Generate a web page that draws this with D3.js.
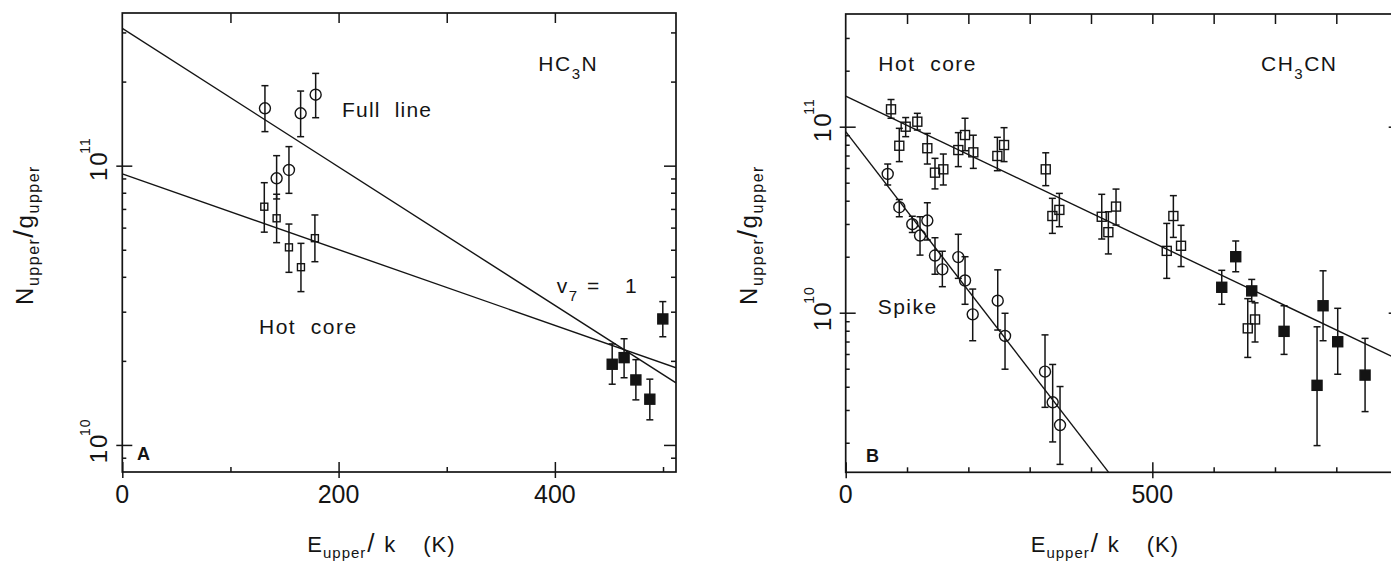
<!DOCTYPE html>
<html><head><meta charset="utf-8">
<script src="https://cdn.jsdelivr.net/npm/d3@7"></script>
<style>
body{margin:0;background:#fff;}
svg{display:block;font-family:"Liberation Sans",Arial,Helvetica,sans-serif;}
text{white-space:pre;}
</style></head><body>
<svg id="c" width="1391" height="565"></svg>
<script>
// ---------- DATA (E_upper/k [K], N/g, lower, upper) ----------
// Panel A: HC3N
const hc3nFullLine = [
  [131.9, 1.605e11, 1.324e11, 1.934e11],
  [142.7, 9.01e10, 7.6e10, 1.086e11],
  [154.1, 9.65e10, 7.96e10, 1.17e11],
  [164.9, 1.54e11, 1.27e11, 1.85e11],
  [178.8, 1.795e11, 1.485e11, 2.14e11]
];
const hc3nHotCore = [
  [131.3, 7.13e10, 5.78e10, 8.69e10],
  [142.7, 6.48e10, 5.3e10, 7.9e10],
  [154.1, 5.1e10, 4.15e10, 6.18e10],
  [165.2, 4.33e10, 3.54e10, 5.27e10],
  [178.1, 5.5e10, 4.53e10, 6.66e10]
];
const hc3nV7 = [
  [453.0, 1.945e10, 1.65e10, 2.30e10],
  [464.0, 2.054e10, 1.74e10, 2.40e10],
  [474.9, 1.709e10, 1.45e10, 2.02e10],
  [487.8, 1.458e10, 1.23e10, 1.72e10],
  [499.8, 2.826e10, 2.44e10, 3.26e10]
];
const hc3nFitFull = [[0, 3.1e11], [512, 1.668e10]];
const hc3nFitHot = [[0, 9.34e10], [512, 1.89e10]];

// Panel B: CH3CN
const ch3cnHotCore = [
  [73.9, 1.24e11, 1.11e11, 1.40e11],
  [87.4, 7.9e10, 6.49e10, 9.8e10],
  [97.8, 1.0e11, 8.84e10, 1.12e11],
  [116.8, 1.064e11, 9.6e10, 1.18e11],
  [133.1, 7.66e10, 6.3e10, 9.2e10],
  [145.6, 5.66e10, 4.63e10, 6.76e10],
  [159.2, 5.9e10, 4.86e10, 7.13e10],
  [183.6, 7.49e10, 6.1e10, 9.29e10],
  [194.6, 9.02e10, 7.43e10, 1.11e11],
  [208.1, 7.28e10, 5.97e10, 9.0e10],
  [247.3, 6.96e10, 5.8e10, 8.77e10],
  [258.2, 7.97e10, 6.49e10, 9.88e10],
  [326.2, 5.9e10, 4.82e10, 7.24e10],
  [337.0, 3.31e10, 2.67e10, 4.12e10],
  [348.4, 3.57e10, 2.9e10, 4.38e10],
  [417.5, 3.28e10, 2.49e10, 4.33e10],
  [428.3, 2.71e10, 2.07e10, 3.49e10],
  [440.8, 3.72e10, 2.96e10, 4.62e10],
  [523.5, 2.15e10, 1.53e10, 3.02e10],
  [534.3, 3.31e10, 2.54e10, 4.26e10],
  [546.8, 2.29e10, 1.77e10, 2.95e10],
  [655.6, 8.24e9, 5.75e9, 1.19e10],
  [667.5, 9.2e9, 6.96e9, 1.13e10]
];
const ch3cnVib = [
  [613.2, 1.37e10, 1.11e10, 1.69e10],
  [636.0, 2.0e10, 1.66e10, 2.43e10],
  [662.1, 1.31e10, 1.15e10, 1.51e10],
  [714.8, 7.94e9, 5.97e9, 1.09e10],
  [768.6, 4.07e9, 1.93e9, 8.4e9],
  [778.4, 1.09e10, 7.07e9, 1.68e10],
  [802.3, 6.98e9, 4.67e9, 1.056e10],
  [846.9, 4.62e9, 2.94e9, 7.28e9]
];
const ch3cnSpike = [
  [68.5, 5.57e10, 4.86e10, 6.3e10],
  [87.4, 3.69e10, 3.28e10, 4.06e10],
  [108.6, 2.99e10, 2.7e10, 3.3e10],
  [121.2, 2.6e10, 2.04e10, 3.28e10],
  [133.1, 3.13e10, 2.46e10, 3.9e10],
  [145.6, 2.03e10, 1.61e10, 2.53e10],
  [157.6, 1.71e10, 1.38e10, 2.14e10],
  [183.6, 1.99e10, 1.53e10, 2.64e10],
  [194.6, 1.49e10, 1.11e10, 2.0e10],
  [207.1, 9.8e9, 7.07e9, 1.34e10],
  [247.9, 1.16e10, 8.07e9, 1.7e10],
  [259.8, 7.5e9, 4.97e9, 9.93e9],
  [325.0, 4.82e9, 3.1e9, 7.6e9],
  [337.5, 3.3e9, 2.02e9, 5.27e9],
  [349.5, 2.49e9, 1.53e9, 4.01e9]
];
const ch3cnFitHot = [[0, 1.462e11], [905, 5.52e9]];
const ch3cnFitSpike = [[0, 9.4e10], [428.5, 1.39e9]];

// ticks
const xMajorA = [0, 200, 400];
const xMinorA = [100, 300, 500];
const xTopA = [100, 200, 300, 400];
const xMajorB = [0, 500];
const xMinorB = [100, 200, 300, 400, 600, 700, 800, 900];
const xTopB = [100, 200, 300, 400, 500, 600, 700, 800, 900];
const yMajor = [1e10, 1e11];
const yExpLabels = ["10", "11"];
const yMinorA = [9e9, 2e10, 3e10, 4e10, 5e10, 6e10, 7e10, 8e10, 9e10, 2e11, 3e11];
const yMinorB = [2e9, 3e9, 4e9, 5e9, 6e9, 7e9, 8e9, 9e9, 2e10, 3e10, 4e10, 5e10, 6e10, 7e10, 8e10, 9e10, 2e11, 3e11];

// ---------- DRAWING ----------
const INK = "#141414";
const svg = d3.select("#c");
svg.append("rect").attr("width", 1391).attr("height", 565).attr("fill", "#fff");

function drawPanel(p) {
  const x = d3.scaleLinear().domain(p.xDomain).range([p.left, p.right]);
  const y = d3.scaleLog().domain(p.yDomain).range([p.bottom, p.top]);
  const g = svg.append("g");
  const clipId = "clip" + p.id;
  svg.append("clipPath").attr("id", clipId).append("rect")
    .attr("x", p.left).attr("y", p.top).attr("width", p.right - p.left).attr("height", p.bottom - p.top);

  // frame
  g.append("rect").attr("x", p.left).attr("y", p.top)
    .attr("width", p.right - p.left).attr("height", p.bottom - p.top)
    .attr("fill", "none").attr("stroke", INK).attr("stroke-width", 1.7);

  const ax = (gen, tx, ty) => {
    const a = g.append("g").attr("transform", `translate(${tx},${ty})`).call(gen);
    a.select(".domain").remove();
    a.selectAll("line").attr("stroke", INK).attr("stroke-width", 1.5);
    a.selectAll("text").remove();
  };
  ax(d3.axisBottom(x).tickValues(p.xMajor).tickSize(-10), 0, p.bottom);
  ax(d3.axisBottom(x).tickValues(p.xMajor).tickSize(6), 0, p.bottom);
  ax(d3.axisBottom(x).tickValues(p.xMinor).tickSize(-5), 0, p.bottom);
  ax(d3.axisTop(x).tickValues(p.xTop).tickSize(-10), 0, p.top);
  ax(d3.axisLeft(y).tickValues(yMajor).tickSize(-10), p.left, 0);
  ax(d3.axisLeft(y).tickValues(yMajor).tickSize(6), p.left, 0);
  ax(d3.axisLeft(y).tickValues(p.yMinor).tickSize(-4), p.left, 0);
  ax(d3.axisRight(y).tickValues(yMajor).tickSize(-12), p.right, 0);
  ax(d3.axisRight(y).tickValues(p.yMinor).tickSize(-5), p.right, 0);

  // x tick labels
  g.selectAll(null).data(p.xMajor).enter().append("text")
    .attr("x", d => x(d)).attr("y", 503).attr("text-anchor", "middle")
    .attr("font-size", 25).attr("fill", INK).text(d => String(d));

  // y tick labels 10^n, rotated
  yMajor.forEach((v, i) => {
    const t = g.append("g").attr("transform", `translate(${p.left - 15},${y(v) + (i === 0 ? 3 : 0)}) rotate(-90)`);
    t.append("text").attr("text-anchor", "middle").attr("font-size", 24)
      .attr("letter-spacing", 2).attr("fill", INK).text("10");
    t.append("text").attr("x", 12).attr("y", -17).attr("font-size", 14)
      .attr("letter-spacing", 1).attr("fill", INK).text(yExpLabels[i]);
  });

  // y axis title
  const yt = g.append("text")
    .attr("transform", `translate(${p.left - 89},235) rotate(-90)`)
    .attr("text-anchor", "middle").attr("font-size", 24).attr("letter-spacing", 1.5).attr("fill", INK);
  yt.append("tspan").text("N");
  yt.append("tspan").attr("font-size", 16).attr("dy", 6).text("upper");
  yt.append("tspan").attr("font-size", 28).attr("dy", -6).text("/");
  yt.append("tspan").text("g");
  yt.append("tspan").attr("font-size", 16).attr("dy", 6).text("upper");

  // x axis title
  const xs = p.left + 185;
  const xt = g.append("text").attr("y", 551.7).attr("font-size", 22).attr("fill", INK).attr("letter-spacing", 1);
  xt.append("tspan").attr("x", xs).text("E");
  xt.append("tspan").attr("font-size", 15).attr("dy", 6).text("upper");
  xt.append("tspan").attr("x", xs + 60).attr("dy", -6).attr("font-size", 26).text("/");
  xt.append("tspan").attr("x", xs + 77).text("k");
  xt.append("tspan").attr("x", xs + 116).text("(K)");

  // fit lines
  const line = d3.line().x(d => x(d[0])).y(d => y(d[1]));
  p.fits.forEach(f => {
    g.append("path").attr("d", line(f)).attr("fill", "none")
      .attr("stroke", INK).attr("stroke-width", 1.4).attr("clip-path", `url(#${clipId})`);
  });

  // series
  p.series.forEach(s => {
    const sg = g.append("g");
    // error bars
    s.data.forEach(d => {
      const cx = x(d[0]);
      sg.append("line").attr("x1", cx).attr("x2", cx).attr("y1", y(d[2])).attr("y2", y(d[3]))
        .attr("stroke", INK).attr("stroke-width", 1.5);
      [d[2], d[3]].forEach(v => {
        sg.append("line").attr("x1", cx - 3.5).attr("x2", cx + 3.5).attr("y1", y(v)).attr("y2", y(v))
          .attr("stroke", INK).attr("stroke-width", 1.5);
      });
    });
    if (s.shape === "circle") {
      sg.selectAll(null).data(s.data).enter().append("circle")
        .attr("cx", d => x(d[0])).attr("cy", d => y(d[1])).attr("r", s.size)
        .attr("fill", "none").attr("stroke", INK).attr("stroke-width", 1.4);
    } else {
      sg.selectAll(null).data(s.data).enter().append("rect")
        .attr("x", d => x(d[0]) - s.size / 2).attr("y", d => y(d[1]) - s.size / 2)
        .attr("width", s.size).attr("height", s.size)
        .attr("fill", s.filled ? INK : "none").attr("stroke", INK).attr("stroke-width", 1.4);
    }
  });

  // annotations
  p.notes.forEach(n => {
    const t = g.append("text").attr("x", n.x).attr("y", n.y).attr("font-size", n.size || 21)
      .attr("letter-spacing", n.ls === undefined ? 1.5 : n.ls)
      .attr("font-weight", n.bold ? "bold" : "normal").attr("fill", INK);
    n.parts.forEach(pt => {
      const ts = t.append("tspan").text(pt.t);
      if (pt.sub) ts.attr("font-size", 15).attr("dy", 8);
      if (pt.back) ts.attr("dy", -8);
      if (pt.x !== undefined) ts.attr("x", pt.x);
    });
  });
}

drawPanel({
  id: "A", left: 122.3, right: 676, top: 13, bottom: 472,
  xDomain: [0, 512], yDomain: [8.0e9, 3.521e11],
  xMajor: xMajorA, xMinor: xMinorA, xTop: xTopA, yMinor: yMinorA,
  fits: [hc3nFitFull, hc3nFitHot],
  series: [
    { data: hc3nFullLine, shape: "circle", size: 5.5 },
    { data: hc3nHotCore, shape: "square", size: 7 },
    { data: hc3nV7, shape: "square", size: 10, filled: true }
  ],
  notes: [
    { x: 538.3, y: 70.7, parts: [{ t: "HC" }, { t: "3", sub: true }, { t: "N", back: true }] },
    { x: 342, y: 117, parts: [{ t: "Full  line" }], ls: 1.2 },
    { x: 259, y: 334, parts: [{ t: "Hot  core" }] },
    { x: 556.7, y: 293.3, parts: [{ t: "v" }, { t: "7", sub: true }, { t: "=", back: true, x: 587 }, { t: "1", x: 625 }] },
    { x: 137, y: 460, size: 18, bold: true, ls: 0, parts: [{ t: "A" }] }
  ]
});

drawPanel({
  id: "B", left: 845.7, right: 1400.7, top: 14, bottom: 472.3,
  xDomain: [0, 905], yDomain: [1.387e9, 4.035e11],
  xMajor: xMajorB, xMinor: xMinorB, xTop: xTopB, yMinor: yMinorB,
  fits: [ch3cnFitHot, ch3cnFitSpike],
  series: [
    { data: ch3cnHotCore, shape: "square", size: 9 },
    { data: ch3cnSpike, shape: "circle", size: 5.5 },
    { data: ch3cnVib, shape: "square", size: 10, filled: true }
  ],
  notes: [
    { x: 878.3, y: 70.7, parts: [{ t: "Hot  core" }] },
    { x: 1261, y: 70.7, parts: [{ t: "CH" }, { t: "3", sub: true }, { t: "CN", back: true }] },
    { x: 877.7, y: 314, parts: [{ t: "Spike" }] },
    { x: 866, y: 461.7, size: 18, bold: true, ls: 0, parts: [{ t: "B" }] }
  ]
});
</script>
</body></html>
